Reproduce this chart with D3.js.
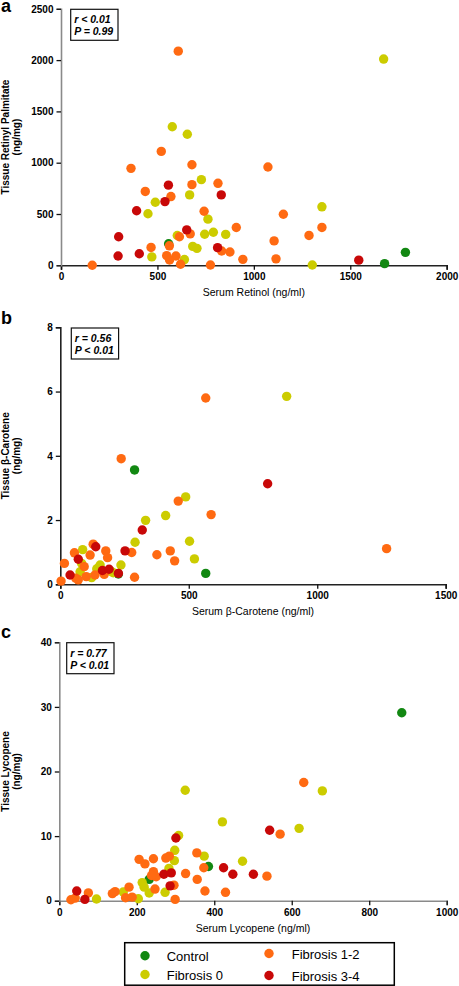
<!DOCTYPE html>
<html><head><meta charset="utf-8">
<script src="https://cdn.jsdelivr.net/npm/d3@7"></script>
<style>
html,body{margin:0;padding:0;background:#fff;}
svg{display:block;font-family:"Liberation Sans",Arial,Helvetica,sans-serif;}
</style></head>
<body><svg id="chart" width="459" height="986"></svg>
<script>
// ---------- data ----------
const groups = ["Control", "Fibrosis 0", "Fibrosis 1-2", "Fibrosis 3-4"];
const groupColors = ["#128812", "#cccc00", "#ff6a12", "#c80808"];

const retinolTicksX = [0, 500, 1000, 1500, 2000];
const retinolTicksY = [0, 500, 1000, 1500, 2000, 2500];
const retinolControl = [[558,210],[1678,16],[1786,126]];
const retinolF0 = [[1673,2010],[577,1350],[655,1277],[728,835],[667,686],[489,615],[451,502],[1353,570],[762,450],[603,290],[745,303],[790,322],[854,301],[683,184],[705,165],[471,82],[640,56],[1303,3]];
const retinolF12 = [[608,2087],[520,1110],[363,945],[679,980],[1073,958],[814,799],[679,786],[437,720],[570,670],[742,527],[1153,498],[909,368],[1353,369],[670,306],[614,278],[1286,291],[1105,238],[562,190],[467,174],[833,139],[876,130],[548,94],[596,91],[563,52],[943,58],[1115,63],[162,0],[620,10],[775,3]];
const retinolF34 = [[557,781],[831,686],[539,621],[392,532],[299,278],[652,345],[812,172],[296,91],[406,113],[1544,50]];

const caroteneTicksX = [0, 500, 1000, 1500];
const caroteneTicksY = [0, 2, 4, 6, 8];
const caroteneControl = [[289,3.56],[566,0.34],[226,0.32]];
const caroteneF0 = [[881,5.85],[488,2.72],[410,2.14],[332,1.99],[291,1.31],[503,1.34],[522,0.79],[236,0.60],[87,1.08],[83,0.65],[155,0.60],[77,0.39],[142,0.48],[206,0.36],[122,0.21],[150,0.52],[200,0.39]];
const caroteneF12 = [[566,5.80],[237,3.91],[459,2.59],[587,2.17],[1270,1.11],[428,1.04],[278,0.99],[376,0.92],[445,0.73],[289,0.22],[177,1.04],[184,0.83],[128,1.25],[116,0.91],[55,0.98],[16,0.65],[93,0.55],[171,0.31],[135,0.29],[101,0.24],[60,0.19],[70,0.14],[3,0.10]];
const caroteneF34 = [[807,3.13],[319,1.69],[252,1.04],[138,1.17],[70,0.78],[38,0.29],[164,0.43],[190,0.47],[226,0.34]];

const lycopeneTicksX = [0, 200, 400, 600, 800, 1000];
const lycopeneTicksY = [0, 10, 20, 30, 40];
const lycopeneControl = [[884,29.1],[385,5.3],[232,3.3]];
const lycopeneF0 = [[325,17.1],[679,17.0],[421,12.2],[619,11.2],[308,10.1],[298,7.8],[374,6.9],[297,6.2],[473,6.1],[283,5.0],[214,2.8],[219,2.1],[273,1.3],[232,1.2],[165,1.35],[96,0.26],[204,0.3]];
const lycopeneF12 = [[631,18.3],[570,10.3],[355,7.4],[284,6.9],[275,6.6],[243,6.5],[206,6.4],[221,5.7],[373,5.1],[243,4.5],[326,4.2],[536,3.8],[250,3.7],[238,3.9],[356,3.3],[180,2.1],[247,1.8],[296,2.4],[376,1.5],[429,1.3],[137,1.1],[144,1.4],[75,1.2],[30,0.15],[41,0.4],[171,0.45],[188,0.55],[299,0.2]];
const lycopeneF34 = [[543,10.9],[301,9.7],[424,5.1],[448,4.1],[501,4.1],[270,4.1],[289,4.3],[286,2.3],[45,1.5],[66,0.2]];

// ---------- panels ----------
const panels = [
  {label:"a", x0:61, x1:446.7, yTop:8.8, yBot:265.3, xDom:[0,2000], yDom:[0,2500],
   xTicks:retinolTicksX, yTicks:retinolTicksY,
   series:[retinolControl, retinolF0, retinolF12, retinolF34],
   xTitle:"Serum Retinol (ng/ml)", yTitle:"Tissue Retinyl Palmitate",
   stats:["r < 0.01","P = 0.99"], boxX:70.7, boxY:9.3, labelY:11.5,
   yAxisColor:"#8a8a8a", xAxisColor:"#222"},
  {label:"b", x0:60.3, x1:445.7, yTop:327.3, yBot:584.3, xDom:[0,1500], yDom:[0,8],
   xTicks:caroteneTicksX, yTicks:caroteneTicksY,
   series:[caroteneControl, caroteneF0, caroteneF12, caroteneF34],
   xTitle:"Serum β-Carotene (ng/ml)", yTitle:"Tissue β-Carotene",
   stats:["r = 0.56","P < 0.01"], boxX:71.3, boxY:328, labelY:324,
   yAxisColor:"#222", xAxisColor:"#222"},
  {label:"c", x0:59.3, x1:446.7, yTop:642.3, yBot:900.7, xDom:[0,1000], yDom:[0,40],
   xTicks:lycopeneTicksX, yTicks:lycopeneTicksY,
   series:[lycopeneControl, lycopeneF0, lycopeneF12, lycopeneF34],
   xTitle:"Serum Lycopene (ng/ml)", yTitle:"Tissue Lycopene",
   stats:["r = 0.77","P < 0.01"], boxX:66.7, boxY:642.7, labelY:638,
   yAxisColor:"#8a8a8a", xAxisColor:"#8a8a8a"}
];

const svg = d3.select("#chart");

panels.forEach(p => {
  const x = d3.scaleLinear().domain(p.xDom).range([p.x0, p.x1]);
  const y = d3.scaleLinear().domain(p.yDom).range([p.yBot, p.yTop]);
  const g = svg.append("g");

  // x axis
  const xa = g.append("g").attr("transform", `translate(0,${p.yBot})`)
    .call(d3.axisBottom(x).tickValues(p.xTicks).tickFormat(d3.format("d")).tickSize(4.5).tickPadding(3.5));
  xa.select(".domain").attr("stroke", p.xAxisColor).attr("stroke-width", 1.6);
  xa.selectAll(".tick line").attr("stroke", "#111").attr("stroke-width", 1.3);
  xa.selectAll(".tick text").attr("fill", "#000").attr("font-size", 10).attr("font-weight", "bold")
    .attr("font-family", '"Liberation Sans",Arial,sans-serif');

  // y axis
  const ya = g.append("g").attr("transform", `translate(${p.x0},0)`)
    .call(d3.axisLeft(y).tickValues(p.yTicks).tickFormat(d3.format("d")).tickSize(4.5).tickPadding(3));
  ya.select(".domain").attr("stroke", p.yAxisColor).attr("stroke-width", 1.6);
  ya.selectAll(".tick line").attr("stroke", "#111").attr("stroke-width", 1.3);
  ya.selectAll(".tick text").attr("fill", "#000").attr("font-size", 10).attr("font-weight", "bold")
    .attr("font-family", '"Liberation Sans",Arial,sans-serif');

  // points
  p.series.forEach((pts, i) => {
    g.append("g").selectAll("circle").data(pts).join("circle")
      .attr("cx", d => x(d[0])).attr("cy", d => y(d[1])).attr("r", 4.7)
      .attr("fill", groupColors[i]);
  });

  // x title
  g.append("text").attr("x", (p.x0 + p.x1) / 2).attr("y", p.yBot + 31)
    .attr("text-anchor", "middle").attr("font-size", 10.5).attr("fill", "#000")
    .text(p.xTitle);

  // y title (two lines)
  const cy = (p.yTop + p.yBot) / 2;
  g.append("text").attr("transform", `translate(9,${cy}) rotate(-90)`)
    .attr("text-anchor", "middle").attr("font-size", 10).attr("font-weight", "bold").attr("fill", "#000")
    .text(p.yTitle);
  g.append("text").attr("transform", `translate(20,${cy}) rotate(-90)`)
    .attr("text-anchor", "middle").attr("font-size", 10).attr("font-weight", "bold").attr("fill", "#000")
    .text("(ng/mg)");

  // panel label
  g.append("text").attr("x", 1).attr("y", p.labelY).attr("font-size", 18).attr("font-weight", "bold")
    .attr("fill", "#000").text(p.label);

  // stats box
  g.append("rect").attr("x", p.boxX).attr("y", p.boxY).attr("width", 47.3).attr("height", 31)
    .attr("fill", "#fff").attr("stroke", "#111").attr("stroke-width", 1.2);
  p.stats.forEach((s, i) => {
    g.append("text").attr("x", p.boxX + 3.5).attr("y", p.boxY + 14 + i * 12)
      .attr("font-size", 10.5).attr("font-weight", "bold").attr("font-style", "italic")
      .attr("fill", "#000").text(s);
  });
});

// ---------- legend ----------
const leg = svg.append("g");
leg.append("rect").attr("x", 124.7).attr("y", 942.7).attr("width", 269.6).attr("height", 42.5)
  .attr("fill", "#fff").attr("stroke", "#000").attr("stroke-width", 1.5);
const legPos = [[145, 955.7, 166.7, 960.5], [145, 974.5, 166.7, 980], [269, 953.5, 291.7, 959], [269, 975.5, 291.7, 981]];
groups.forEach((name, i) => {
  const [mx, my, tx, ty] = legPos[i];
  leg.append("circle").attr("cx", mx).attr("cy", my).attr("r", 4.7).attr("fill", groupColors[i]);
  leg.append("text").attr("x", tx).attr("y", ty).attr("font-size", 13).attr("fill", "#000").text(name);
});
</script>
</body></html>
